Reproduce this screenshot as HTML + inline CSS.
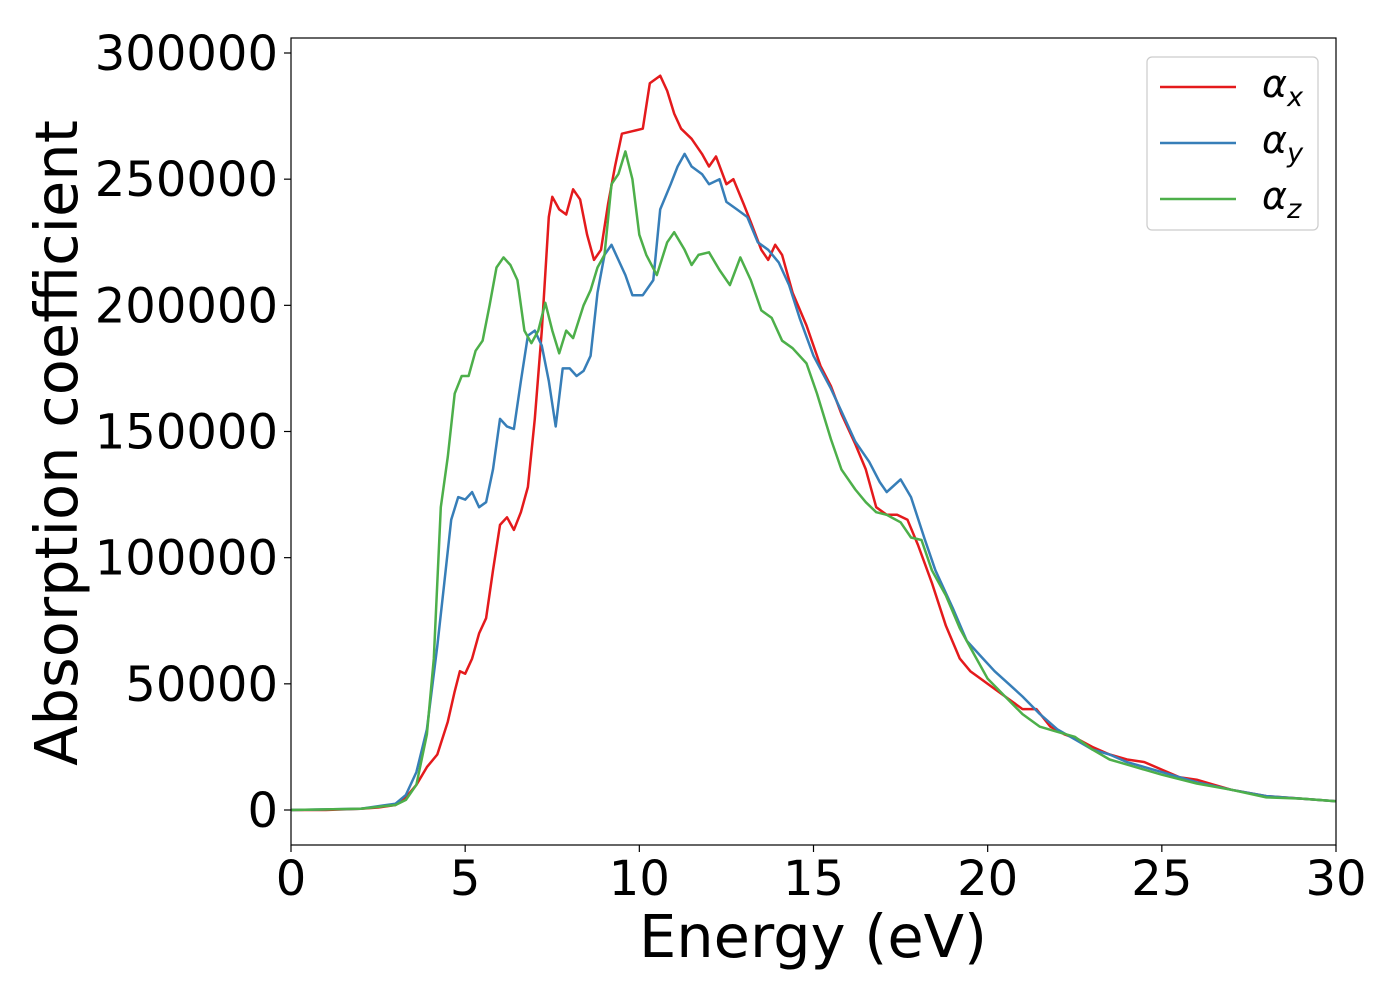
<!DOCTYPE html>
<html><head><meta charset="utf-8"><style>
body{margin:0;background:#fff;}
svg text{font-family:"DejaVu Sans","Liberation Sans",sans-serif;}
</style></head><body>
<svg id="chart" width="1400" height="1000" xmlns="http://www.w3.org/2000/svg">
<g id="plot"></g>
</svg>
<script>
const xTicks=[0,5,10,15,20,25,30];
const yTicks=[0,50000,100000,150000,200000,250000,300000];
const xX=[0,1,2,2.5,3,3.3,3.6,3.9,4.2,4.5,4.7,4.85,5.0,5.2,5.4,5.6,5.8,6.0,6.2,6.4,6.6,6.8,7.0,7.2,7.4,7.5,7.7,7.9,8.1,8.3,8.5,8.7,8.9,9.1,9.3,9.5,9.8,10.1,10.3,10.6,10.8,11.0,11.2,11.5,11.8,12.0,12.2,12.5,12.7,13.0,13.2,13.5,13.7,13.9,14.1,14.4,14.8,15.2,15.5,15.8,16.2,16.5,16.8,17.1,17.4,17.7,18.0,18.4,18.8,19.2,19.5,19.8,20.2,20.6,21.0,21.4,21.8,22.2,22.6,23.0,23.5,24.0,24.5,25.0,25.5,26.0,26.5,27.0,28,29,30];
const alphaX=[0,0,500,1000,2000,5000,10000,17000,22000,35000,47000,55000,54000,60000,70000,76000,95000,113000,116000,111000,118000,128000,155000,190000,235000,243000,238000,236000,246000,242000,228000,218000,222000,240000,255000,268000,269000,270000,288000,291000,285000,276000,270000,266000,260000,255000,259000,248000,250000,240000,233000,222000,218000,224000,220000,205000,192000,176000,168000,157000,145000,135000,120000,117000,117000,115000,105000,90000,73000,60000,55000,52000,48000,44000,40000,40000,33000,30000,28000,25000,22000,20000,19000,16000,13000,12000,10000,8000,5500,4500,3500];
const yX=[0,2,3,3.3,3.6,3.9,4.2,4.4,4.6,4.8,5.0,5.2,5.4,5.6,5.8,6.0,6.2,6.4,6.6,6.8,7.0,7.2,7.4,7.6,7.8,8.0,8.2,8.4,8.6,8.8,9.0,9.2,9.4,9.6,9.8,10.1,10.4,10.6,10.9,11.1,11.3,11.5,11.8,12.0,12.3,12.5,12.8,13.1,13.4,13.7,14.0,14.3,14.6,15.0,15.5,15.8,16.2,16.6,16.9,17.1,17.5,17.8,18.2,18.5,19.0,19.4,19.8,20.2,20.6,21.0,21.5,22.0,22.5,23.0,23.5,24.0,25,26,27,28,29,30];
const alphaY=[0,500,2500,6000,15000,32000,65000,90000,115000,124000,123000,126000,120000,122000,135000,155000,152000,151000,170000,188000,190000,184000,170000,152000,175000,175000,172000,174000,180000,205000,220000,224000,218000,212000,204000,204000,210000,238000,248000,255000,260000,255000,252000,248000,250000,241000,238000,235000,225000,222000,217000,208000,195000,180000,167000,158000,146000,138000,130000,126000,131000,124000,107000,95000,80000,67000,61000,55000,50000,45000,38000,32000,28000,24000,22000,19000,15000,11000,8000,5500,4500,3500];
const zX=[0,2,3,3.3,3.6,3.9,4.1,4.3,4.5,4.7,4.9,5.1,5.3,5.5,5.7,5.9,6.1,6.3,6.5,6.7,6.9,7.1,7.3,7.5,7.7,7.9,8.1,8.4,8.6,8.8,9.0,9.2,9.4,9.6,9.8,10.0,10.2,10.5,10.8,11.0,11.3,11.5,11.7,12.0,12.3,12.6,12.9,13.2,13.5,13.8,14.1,14.4,14.8,15.1,15.5,15.8,16.2,16.5,16.8,17.1,17.5,17.8,18.1,18.4,18.8,19.2,19.6,20.0,20.5,21.0,21.5,22.0,22.5,23.0,23.5,24,25,26,27,28,29,30];
const alphaZ=[0,500,2000,4000,10000,30000,60000,120000,140000,165000,172000,172000,182000,186000,200000,215000,219000,216000,210000,190000,185000,190000,201000,190000,181000,190000,187000,200000,206000,215000,220000,248000,252000,261000,250000,228000,220000,212000,225000,229000,222000,216000,220000,221000,214000,208000,219000,210000,198000,195000,186000,183000,177000,165000,147000,135000,127000,122000,118000,117000,114000,108000,107000,95000,85000,72000,62000,52000,45000,38000,33000,31000,29000,24000,20000,18000,14000,10500,8000,5000,4500,3500];

const L=291,R=1336,T=38,B=845;
const sx=v=>L+(v-0)/30*(R-L);
const sy=v=>810-v*757/300000;
const NS="http://www.w3.org/2000/svg";
const g=document.getElementById('plot');
function mk(t,a,p){const e=document.createElementNS(NS,t);for(const k in a)e.setAttribute(k,a[k]);(p||g).appendChild(e);return e;}

function series(xs,ys,color,name){
  const pts=xs.map((x,i)=>sx(x).toFixed(1)+','+sy(ys[i]).toFixed(1)).join(' ');
  const e=mk('polyline',{points:pts,fill:'none',stroke:color,'stroke-width':2.5,'stroke-linejoin':'round'});
  
  
}
series(xX,alphaX,'#e41a1c','series-alpha-x');
series(yX,alphaY,'#377eb8','series-alpha-y');
series(zX,alphaZ,'#4daf4a','series-alpha-z');

const frame=mk('rect',{x:L,y:T,width:R-L,height:B-T,fill:'none',stroke:'#000','stroke-width':1.2});



xTicks.forEach(v=>{
  mk('line',{x1:sx(v),x2:sx(v),y1:B,y2:B+7,stroke:'#000','stroke-width':1.2});
  const t=mk('text',{x:sx(v),y:895,'text-anchor':'middle','font-size':48});
  t.textContent=v;
  
  
});
yTicks.forEach(v=>{
  mk('line',{x1:L-7,x2:L,y1:sy(v),y2:sy(v),stroke:'#000','stroke-width':1.2});
  const t=mk('text',{x:278,y:sy(v)+17,'text-anchor':'end','font-size':48});
  t.textContent=v;
  
  
});
const xt=mk('text',{x:813,y:957,'text-anchor':'middle','font-size':59});
xt.textContent='Energy (eV)';


const yt=mk('text',{x:0,y:0,'text-anchor':'middle','font-size':59,transform:'translate(77,443) rotate(-90)'});
yt.textContent='Absorption coefficient';



const lg=mk('g',{});


mk('rect',{x:1147,y:57,width:171,height:173,rx:5,fill:'#fff',stroke:'#ccc','stroke-width':1.2},lg);
[['#e41a1c','x',87],['#377eb8','y',143],['#4daf4a','z',199]].forEach(([c,s,y])=>{
  const e=mk('g',{},lg);
  
  
  mk('line',{x1:1160,x2:1236,y1:y,y2:y,stroke:c,'stroke-width':2.5},e);
  const t=mk('text',{x:1262,y:y+10,'font-size':38,'font-style':'italic'},e);
  t.textContent='α';
  const sub=mk('tspan',{'font-size':27,dy:9},t);
  sub.textContent=s;
});
</script>
</body></html>
